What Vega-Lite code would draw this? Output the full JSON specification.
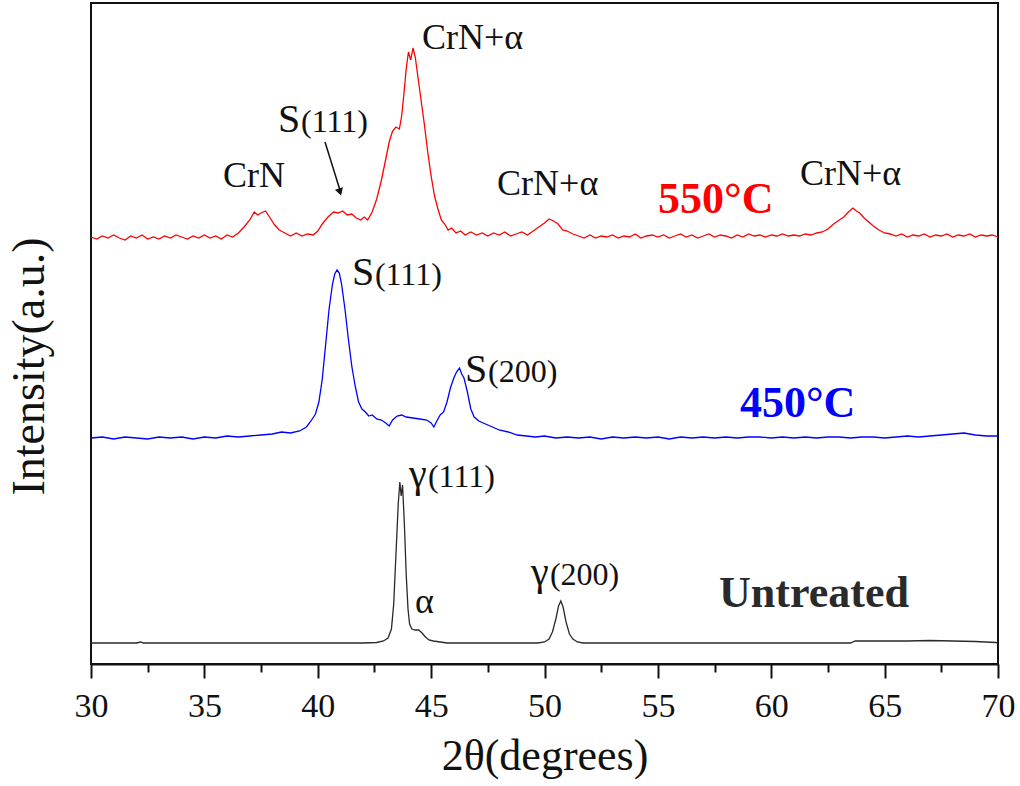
{
  "$schema": "https://vega.github.io/schema/vega-lite/v6.json",
  "width": 907,
  "height": 661,
  "autosize": {"type": "none"},
  "padding": {"left": 91, "top": 3, "right": 22, "bottom": 122},
  "background": "white",
  "config": {
    "view": {"stroke": "#111", "strokeWidth": 2},
    "font": "Liberation Serif",
    "axis": {"labelFont": "Liberation Serif", "titleFont": "Liberation Serif"},
    "axisX": {"labelFontSize": 34, "labelFont": "Liberation Serif"}
  },
  "datasets": {
    "spectra": [
      {"series":"550","x":30.0,"y":427},{"series":"550","x":30.25,"y":425},{"series":"550","x":30.5,"y":428},{"series":"550","x":30.75,"y":426},
      {"series":"550","x":31.0,"y":429},{"series":"550","x":31.25,"y":426},{"series":"550","x":31.5,"y":424},{"series":"550","x":31.75,"y":428},
      {"series":"550","x":32.0,"y":426},{"series":"550","x":32.25,"y":429},{"series":"550","x":32.5,"y":425},{"series":"550","x":32.75,"y":427},
      {"series":"550","x":33.0,"y":425},{"series":"550","x":33.25,"y":428},{"series":"550","x":33.5,"y":426},{"series":"550","x":33.75,"y":429},
      {"series":"550","x":34.0,"y":427},{"series":"550","x":34.25,"y":425},{"series":"550","x":34.5,"y":428},{"series":"550","x":34.75,"y":426},
      {"series":"550","x":35.0,"y":429},{"series":"550","x":35.25,"y":426},{"series":"550","x":35.5,"y":428},{"series":"550","x":35.75,"y":425},
      {"series":"550","x":36.0,"y":429},{"series":"550","x":36.25,"y":427},{"series":"550","x":36.5,"y":431},{"series":"550","x":36.75,"y":437},
      {"series":"550","x":37.0,"y":444},{"series":"550","x":37.2,"y":452},{"series":"550","x":37.35,"y":449},{"series":"550","x":37.5,"y":451},
      {"series":"550","x":37.7,"y":453},{"series":"550","x":37.9,"y":446},{"series":"550","x":38.1,"y":439},{"series":"550","x":38.3,"y":434},
      {"series":"550","x":38.55,"y":431},{"series":"550","x":38.8,"y":428},{"series":"550","x":39.05,"y":431},{"series":"550","x":39.3,"y":428},
      {"series":"550","x":39.55,"y":430},{"series":"550","x":39.8,"y":429},{"series":"550","x":40.0,"y":433},{"series":"550","x":40.2,"y":440},
      {"series":"550","x":40.45,"y":447},{"series":"550","x":40.7,"y":452},{"series":"550","x":40.9,"y":451},{"series":"550","x":41.1,"y":453},
      {"series":"550","x":41.3,"y":449},{"series":"550","x":41.5,"y":450},{"series":"550","x":41.7,"y":446},{"series":"550","x":41.9,"y":444},
      {"series":"550","x":42.05,"y":447},{"series":"550","x":42.2,"y":444},{"series":"550","x":42.4,"y":452},{"series":"550","x":42.6,"y":465},
      {"series":"550","x":42.8,"y":483},{"series":"550","x":43.0,"y":505},{"series":"550","x":43.15,"y":522},{"series":"550","x":43.3,"y":533},
      {"series":"550","x":43.45,"y":537},{"series":"550","x":43.6,"y":535},{"series":"550","x":43.7,"y":548},{"series":"550","x":43.8,"y":570},
      {"series":"550","x":43.9,"y":595},{"series":"550","x":44.0,"y":612},{"series":"550","x":44.1,"y":604},{"series":"550","x":44.2,"y":616},
      {"series":"550","x":44.3,"y":607},{"series":"550","x":44.4,"y":590},{"series":"550","x":44.55,"y":565},{"series":"550","x":44.7,"y":540},
      {"series":"550","x":44.85,"y":512},{"series":"550","x":45.0,"y":488},{"series":"550","x":45.15,"y":468},{"series":"550","x":45.3,"y":455},
      {"series":"550","x":45.45,"y":444},{"series":"550","x":45.6,"y":440},{"series":"550","x":45.75,"y":434},{"series":"550","x":45.9,"y":436},
      {"series":"550","x":46.1,"y":431},{"series":"550","x":46.3,"y":433},{"series":"550","x":46.5,"y":429},{"series":"550","x":46.75,"y":432},
      {"series":"550","x":47.0,"y":429},{"series":"550","x":47.25,"y":431},{"series":"550","x":47.5,"y":428},{"series":"550","x":47.75,"y":431},
      {"series":"550","x":48.0,"y":429},{"series":"550","x":48.25,"y":432},{"series":"550","x":48.5,"y":428},{"series":"550","x":48.75,"y":430},
      {"series":"550","x":49.0,"y":432},{"series":"550","x":49.25,"y":429},{"series":"550","x":49.5,"y":433},{"series":"550","x":49.75,"y":437},
      {"series":"550","x":50.0,"y":441},{"series":"550","x":50.2,"y":445},{"series":"550","x":50.4,"y":443},{"series":"550","x":50.6,"y":440},
      {"series":"550","x":50.8,"y":434},{"series":"550","x":51.0,"y":433},{"series":"550","x":51.25,"y":430},{"series":"550","x":51.5,"y":428},
      {"series":"550","x":51.75,"y":426},{"series":"550","x":52.0,"y":429},{"series":"550","x":52.25,"y":426},{"series":"550","x":52.5,"y":428},
      {"series":"550","x":52.75,"y":427},{"series":"550","x":53.0,"y":429},{"series":"550","x":53.25,"y":426},{"series":"550","x":53.5,"y":428},
      {"series":"550","x":53.75,"y":427},{"series":"550","x":54.0,"y":430},{"series":"550","x":54.25,"y":426},{"series":"550","x":54.5,"y":428},
      {"series":"550","x":54.75,"y":429},{"series":"550","x":55.0,"y":427},{"series":"550","x":55.25,"y":429},{"series":"550","x":55.5,"y":426},
      {"series":"550","x":55.75,"y":428},{"series":"550","x":56.0,"y":430},{"series":"550","x":56.25,"y":427},{"series":"550","x":56.5,"y":429},
      {"series":"550","x":56.75,"y":426},{"series":"550","x":57.0,"y":428},{"series":"550","x":57.25,"y":430},{"series":"550","x":57.5,"y":427},
      {"series":"550","x":57.75,"y":429},{"series":"550","x":58.0,"y":428},{"series":"550","x":58.25,"y":426},{"series":"550","x":58.5,"y":429},
      {"series":"550","x":58.75,"y":427},{"series":"550","x":59.0,"y":430},{"series":"550","x":59.25,"y":428},{"series":"550","x":59.5,"y":429},
      {"series":"550","x":59.75,"y":427},{"series":"550","x":60.0,"y":429},{"series":"550","x":60.25,"y":428},{"series":"550","x":60.5,"y":430},
      {"series":"550","x":60.75,"y":428},{"series":"550","x":61.0,"y":429},{"series":"550","x":61.25,"y":428},{"series":"550","x":61.5,"y":430},
      {"series":"550","x":61.75,"y":429},{"series":"550","x":62.0,"y":431},{"series":"550","x":62.25,"y":432},{"series":"550","x":62.5,"y":435},
      {"series":"550","x":62.75,"y":440},{"series":"550","x":63.0,"y":444},{"series":"550","x":63.2,"y":447},{"series":"550","x":63.4,"y":452},
      {"series":"550","x":63.6,"y":456},{"series":"550","x":63.75,"y":453},{"series":"550","x":63.9,"y":451},{"series":"550","x":64.1,"y":446},
      {"series":"550","x":64.3,"y":442},{"series":"550","x":64.5,"y":438},{"series":"550","x":64.75,"y":434},{"series":"550","x":65.0,"y":431},
      {"series":"550","x":65.25,"y":430},{"series":"550","x":65.5,"y":428},{"series":"550","x":65.75,"y":430},{"series":"550","x":66.0,"y":427},
      {"series":"550","x":66.25,"y":429},{"series":"550","x":66.5,"y":428},{"series":"550","x":66.75,"y":430},{"series":"550","x":67.0,"y":427},
      {"series":"550","x":67.25,"y":429},{"series":"550","x":67.5,"y":428},{"series":"550","x":67.75,"y":430},{"series":"550","x":68.0,"y":427},
      {"series":"550","x":68.25,"y":429},{"series":"550","x":68.5,"y":428},{"series":"550","x":68.75,"y":430},{"series":"550","x":69.0,"y":427},
      {"series":"550","x":69.25,"y":429},{"series":"550","x":69.5,"y":428},{"series":"550","x":69.75,"y":429},{"series":"550","x":70.0,"y":427},

      {"series":"450","x":30.0,"y":226},{"series":"450","x":30.5,"y":227},{"series":"450","x":31.0,"y":225},{"series":"450","x":31.5,"y":227},
      {"series":"450","x":32.0,"y":226},{"series":"450","x":32.5,"y":225},{"series":"450","x":33.0,"y":227},{"series":"450","x":33.5,"y":226},
      {"series":"450","x":34.0,"y":227},{"series":"450","x":34.5,"y":225},{"series":"450","x":35.0,"y":227},{"series":"450","x":35.5,"y":226},
      {"series":"450","x":36.0,"y":228},{"series":"450","x":36.5,"y":227},{"series":"450","x":37.0,"y":228},{"series":"450","x":37.5,"y":229},
      {"series":"450","x":38.0,"y":230},{"series":"450","x":38.4,"y":232},{"series":"450","x":38.8,"y":231},{"series":"450","x":39.2,"y":233},
      {"series":"450","x":39.5,"y":237},{"series":"450","x":39.7,"y":243},{"series":"450","x":39.9,"y":250},{"series":"450","x":40.05,"y":262},
      {"series":"450","x":40.2,"y":285},{"series":"450","x":40.35,"y":320},{"series":"450","x":40.5,"y":355},{"series":"450","x":40.65,"y":380},
      {"series":"450","x":40.75,"y":390},{"series":"450","x":40.85,"y":394},{"series":"450","x":40.95,"y":391},{"series":"450","x":41.05,"y":380},
      {"series":"450","x":41.2,"y":355},{"series":"450","x":41.35,"y":325},{"series":"450","x":41.5,"y":298},{"series":"450","x":41.65,"y":278},
      {"series":"450","x":41.8,"y":262},{"series":"450","x":41.95,"y":255},{"series":"450","x":42.1,"y":252},{"series":"450","x":42.25,"y":248},
      {"series":"450","x":42.4,"y":249},{"series":"450","x":42.6,"y":245},{"series":"450","x":42.8,"y":244},{"series":"450","x":43.0,"y":241},
      {"series":"450","x":43.15,"y":238},{"series":"450","x":43.3,"y":244},{"series":"450","x":43.5,"y":248},{"series":"450","x":43.7,"y":249},
      {"series":"450","x":43.9,"y":247},{"series":"450","x":44.2,"y":246},{"series":"450","x":44.5,"y":245},{"series":"450","x":44.8,"y":244},
      {"series":"450","x":45.0,"y":241},{"series":"450","x":45.12,"y":237},{"series":"450","x":45.25,"y":243},{"series":"450","x":45.4,"y":249},
      {"series":"450","x":45.55,"y":252},{"series":"450","x":45.7,"y":262},{"series":"450","x":45.85,"y":276},{"series":"450","x":46.0,"y":286},
      {"series":"450","x":46.12,"y":292},{"series":"450","x":46.25,"y":296},{"series":"450","x":46.35,"y":290},{"series":"450","x":46.45,"y":286},
      {"series":"450","x":46.6,"y":272},{"series":"450","x":46.75,"y":255},{"series":"450","x":46.9,"y":247},{"series":"450","x":47.1,"y":243},
      {"series":"450","x":47.4,"y":240},{"series":"450","x":47.7,"y":237},{"series":"450","x":48.0,"y":234},{"series":"450","x":48.4,"y":232},
      {"series":"450","x":48.8,"y":229},{"series":"450","x":49.2,"y":228},{"series":"450","x":49.6,"y":227},{"series":"450","x":50.0,"y":228},
      {"series":"450","x":50.5,"y":226},{"series":"450","x":51.0,"y":227},{"series":"450","x":51.5,"y":226},{"series":"450","x":52.0,"y":227},
      {"series":"450","x":52.5,"y":225},{"series":"450","x":53.0,"y":227},{"series":"450","x":53.5,"y":226},{"series":"450","x":54.0,"y":227},
      {"series":"450","x":54.5,"y":226},{"series":"450","x":55.0,"y":227},{"series":"450","x":55.5,"y":225},{"series":"450","x":56.0,"y":227},
      {"series":"450","x":56.5,"y":226},{"series":"450","x":57.0,"y":227},{"series":"450","x":57.5,"y":226},{"series":"450","x":58.0,"y":227},
      {"series":"450","x":58.5,"y":226},{"series":"450","x":59.0,"y":227},{"series":"450","x":59.5,"y":227},{"series":"450","x":60.0,"y":226},
      {"series":"450","x":60.5,"y":227},{"series":"450","x":61.0,"y":226},{"series":"450","x":61.5,"y":227},{"series":"450","x":62.0,"y":226},
      {"series":"450","x":62.5,"y":227},{"series":"450","x":63.0,"y":227},{"series":"450","x":63.5,"y":226},{"series":"450","x":64.0,"y":227},
      {"series":"450","x":64.5,"y":227},{"series":"450","x":65.0,"y":226},{"series":"450","x":65.5,"y":227},{"series":"450","x":66.0,"y":228},
      {"series":"450","x":66.5,"y":227},{"series":"450","x":67.0,"y":228},{"series":"450","x":67.5,"y":229},{"series":"450","x":68.0,"y":230},
      {"series":"450","x":68.5,"y":231},{"series":"450","x":69.0,"y":229},{"series":"450","x":69.5,"y":228},{"series":"450","x":70.0,"y":228},

      {"series":"Untreated","x":30.0,"y":21},{"series":"Untreated","x":31.0,"y":21},{"series":"Untreated","x":32.0,"y":21},{"series":"Untreated","x":32.2,"y":22},
      {"series":"Untreated","x":32.3,"y":21},{"series":"Untreated","x":33.0,"y":21},{"series":"Untreated","x":34.0,"y":21},{"series":"Untreated","x":35.0,"y":21},
      {"series":"Untreated","x":36.0,"y":21},{"series":"Untreated","x":37.0,"y":21},{"series":"Untreated","x":38.0,"y":21},{"series":"Untreated","x":39.0,"y":21},
      {"series":"Untreated","x":40.0,"y":21},{"series":"Untreated","x":41.0,"y":21},{"series":"Untreated","x":42.0,"y":21},{"series":"Untreated","x":42.6,"y":21.5},
      {"series":"Untreated","x":42.9,"y":23},{"series":"Untreated","x":43.1,"y":26},{"series":"Untreated","x":43.25,"y":35},{"series":"Untreated","x":43.35,"y":60},
      {"series":"Untreated","x":43.45,"y":110},{"series":"Untreated","x":43.55,"y":160},{"series":"Untreated","x":43.62,"y":182},{"series":"Untreated","x":43.68,"y":168},
      {"series":"Untreated","x":43.74,"y":179},{"series":"Untreated","x":43.82,"y":140},{"series":"Untreated","x":43.9,"y":90},{"series":"Untreated","x":43.98,"y":55},
      {"series":"Untreated","x":44.05,"y":40},{"series":"Untreated","x":44.15,"y":35},{"series":"Untreated","x":44.3,"y":34},{"series":"Untreated","x":44.45,"y":34},
      {"series":"Untreated","x":44.6,"y":31},{"series":"Untreated","x":44.75,"y":27},{"series":"Untreated","x":44.9,"y":24},{"series":"Untreated","x":45.1,"y":23},
      {"series":"Untreated","x":45.4,"y":22},{"series":"Untreated","x":45.7,"y":21},{"series":"Untreated","x":46.0,"y":21},{"series":"Untreated","x":47.0,"y":21},
      {"series":"Untreated","x":48.0,"y":21},{"series":"Untreated","x":49.0,"y":21},{"series":"Untreated","x":49.7,"y":21},{"series":"Untreated","x":50.0,"y":22},
      {"series":"Untreated","x":50.2,"y":25},{"series":"Untreated","x":50.35,"y":32},{"series":"Untreated","x":50.5,"y":45},{"series":"Untreated","x":50.62,"y":58},
      {"series":"Untreated","x":50.72,"y":63},{"series":"Untreated","x":50.82,"y":57},{"series":"Untreated","x":50.95,"y":42},{"series":"Untreated","x":51.1,"y":30},
      {"series":"Untreated","x":51.25,"y":25},{"series":"Untreated","x":51.45,"y":22},{"series":"Untreated","x":51.7,"y":21},{"series":"Untreated","x":52.0,"y":21},
      {"series":"Untreated","x":54.0,"y":21},{"series":"Untreated","x":56.0,"y":21},{"series":"Untreated","x":58.0,"y":21},{"series":"Untreated","x":60.0,"y":21},
      {"series":"Untreated","x":62.0,"y":21},{"series":"Untreated","x":63.5,"y":21},{"series":"Untreated","x":63.7,"y":23},{"series":"Untreated","x":64.5,"y":23},
      {"series":"Untreated","x":65.0,"y":23},{"series":"Untreated","x":66.0,"y":23},{"series":"Untreated","x":67.0,"y":23.5},{"series":"Untreated","x":68.0,"y":23},
      {"series":"Untreated","x":69.0,"y":22.5},{"series":"Untreated","x":69.9,"y":21.5},{"series":"Untreated","x":70.0,"y":21}
    ],
    "peakLabels": [
      {"label":"CrN","x":35.82,"y":477},
      {"label":"CrN+α","x":44.6,"y":615},
      {"label":"CrN+α","x":47.91,"y":469},
      {"label":"CrN+α","x":61.27,"y":479},
      {"label":"α","x":44.29,"y":51}
    ],
    "phaseLetters": [
      {"label":"S","x":38.25,"y":532},
      {"label":"S","x":41.51,"y":379},
      {"label":"S","x":46.49,"y":282},
      {"label":"γ","x":44.02,"y":177},
      {"label":"γ","x":49.4,"y":79}
    ],
    "planes": [
      {"label":"(111)","x":39.26,"y":532},
      {"label":"(111)","x":42.52,"y":379},
      {"label":"(200)","x":47.51,"y":282},
      {"label":"(111)","x":44.86,"y":177},
      {"label":"(200)","x":50.24,"y":79}
    ],
    "sampleLabels": [
      {"series":"550","label":"550°C","x":55.01,"y":451},
      {"series":"450","label":"450°C","x":58.62,"y":247},
      {"series":"Untreated","label":"Untreated","x":57.7,"y":57}
    ],
    "arrow": [
      {"x":40.32,"y":522,"x2":41.02,"y2":471}
    ],
    "arrowHead": [
      {"x":40.98,"y":472}
    ]
  },
  "encoding": {
    "x": {
      "field": "x", "type": "quantitative",
      "scale": {"domain": [30, 70], "nice": false, "zero": false},
      "axis": {
        "title": "2θ(degrees)",
        "values": [30,32.5,35,37.5,40,42.5,45,47.5,50,52.5,55,57.5,60,62.5,65,67.5,70],
        "labelExpr": "datum.value % 5 === 0 ? datum.label : ''",
        "labelOverlap": false,
        "labelFont": "Liberation Serif",
        "labelFontSize": 34,
        "labelColor": "#111",
        "labelPadding": 11,
        "labelFlush": false,
        "tickColor": "#111",
        "tickWidth": 2,
        "tickSize": {"condition": {"test": "datum.value % 5 !== 0", "value": 8}, "value": 14},
        "domainColor": "#111",
        "domainWidth": 2,
        "grid": false,
        "titleFont": "Liberation Serif",
        "titleFontSize": 44,
        "titleFontWeight": "normal",
        "titleColor": "#111",
        "titlePadding": 11
      }
    },
    "y": {
      "field": "y", "type": "quantitative",
      "scale": {"domain": [0, 661], "nice": false, "zero": false},
      "axis": {
        "title": "Intensity(a.u.)",
        "labels": false,
        "ticks": false,
        "domain": false,
        "grid": false,
        "titleFont": "Liberation Serif",
        "titleFontSize": 46,
        "titleFontWeight": "normal",
        "titleColor": "#111",
        "titleAngle": 270,
        "titleAlign": "center",
        "titleBaseline": "alphabetic",
        "titleX": -48,
        "titleY": 363
      }
    }
  },
  "layer": [
    {
      "data": {"name": "spectra"},
      "mark": {"type": "line", "strokeWidth": 1.3, "interpolate": "linear"},
      "encoding": {
        "color": {
          "field": "series", "type": "nominal",
          "scale": {"domain": ["550", "450", "Untreated"], "range": ["#ff0000", "#0000ff", "#2a2a2a"]},
          "legend": null
        }
      }
    },
    {
      "data": {"name": "arrow"},
      "mark": {"type": "rule", "color": "#111", "strokeWidth": 1.5},
      "encoding": {
        "x2": {"field": "x2"},
        "y2": {"field": "y2"}
      }
    },
    {
      "data": {"name": "arrowHead"},
      "mark": {"type": "point", "shape": "triangle-down", "filled": true, "color": "#111", "size": 70, "angle": 343, "opacity": 1}
    },
    {
      "data": {"name": "peakLabels"},
      "mark": {"type": "text", "font": "Liberation Serif", "fontSize": 36, "align": "left", "baseline": "alphabetic", "color": "#111"},
      "encoding": {"text": {"field": "label"}}
    },
    {
      "data": {"name": "phaseLetters"},
      "mark": {"type": "text", "font": "Liberation Serif", "fontSize": 40, "align": "left", "baseline": "alphabetic", "color": "#111"},
      "encoding": {"text": {"field": "label"}}
    },
    {
      "data": {"name": "planes"},
      "mark": {"type": "text", "font": "Liberation Serif", "fontSize": 32, "align": "left", "baseline": "alphabetic", "color": "#111"},
      "encoding": {"text": {"field": "label"}}
    },
    {
      "data": {"name": "sampleLabels"},
      "mark": {"type": "text", "font": "Liberation Serif", "fontSize": 44, "fontWeight": "bold", "align": "left", "baseline": "alphabetic"},
      "encoding": {
        "text": {"field": "label"},
        "color": {"field": "series", "type": "nominal", "legend": null}
      }
    }
  ]
}
